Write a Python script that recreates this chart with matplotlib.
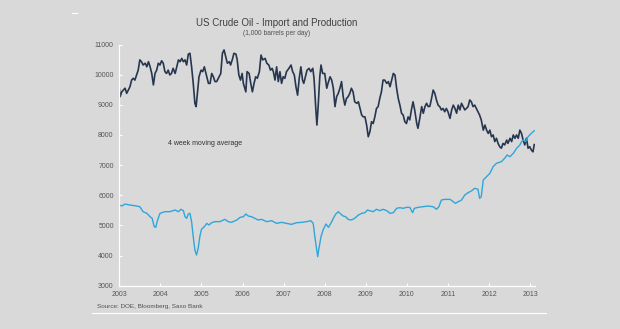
import matplotlib
matplotlib.use('Agg')
import matplotlib.pyplot as plt
from matplotlib.lines import Line2D

# weekly crude figures, 1,000 barrels per day (decimal years)
import_years = [
    2003.00, 2003.02, 2003.06, 2003.10, 2003.14, 2003.18, 2003.22, 2003.26, 2003.30, 2003.34,
    2003.38, 2003.42, 2003.46, 2003.50, 2003.54, 2003.58, 2003.63, 2003.67, 2003.71, 2003.75,
    2003.79, 2003.83, 2003.87, 2003.91, 2003.95, 2003.99, 2004.03, 2004.07, 2004.11, 2004.15,
    2004.19, 2004.23, 2004.27, 2004.31, 2004.36, 2004.40, 2004.44, 2004.48, 2004.52, 2004.56,
    2004.60, 2004.64, 2004.68, 2004.72, 2004.76, 2004.80, 2004.84, 2004.87, 2004.90, 2004.94,
    2004.99, 2005.03, 2005.07, 2005.11, 2005.17, 2005.21, 2005.25, 2005.29, 2005.33, 2005.37,
    2005.41, 2005.47, 2005.51, 2005.55, 2005.60, 2005.63, 2005.68, 2005.71, 2005.76, 2005.79,
    2005.84, 2005.87, 2005.91, 2005.95, 2005.99, 2006.02, 2006.08, 2006.11, 2006.16, 2006.20,
    2006.24, 2006.28, 2006.32, 2006.36, 2006.41, 2006.45, 2006.49, 2006.55, 2006.59, 2006.64,
    2006.68, 2006.72, 2006.75, 2006.79, 2006.83, 2006.87, 2006.91, 2006.95, 2006.99, 2007.03,
    2007.07, 2007.13, 2007.18, 2007.22, 2007.26, 2007.30, 2007.34, 2007.38, 2007.42, 2007.46,
    2007.49, 2007.54, 2007.57, 2007.62, 2007.66, 2007.71, 2007.74, 2007.78, 2007.81, 2007.84,
    2007.88, 2007.91, 2007.95, 2008.00, 2008.05, 2008.08, 2008.13, 2008.17, 2008.21, 2008.25,
    2008.29, 2008.33, 2008.37, 2008.41, 2008.45, 2008.49, 2008.53, 2008.57, 2008.61, 2008.65,
    2008.69, 2008.73, 2008.78, 2008.82, 2008.86, 2008.90, 2008.94, 2008.98, 2009.02, 2009.06,
    2009.10, 2009.14, 2009.18, 2009.22, 2009.26, 2009.30, 2009.34, 2009.38, 2009.42, 2009.46,
    2009.51, 2009.55, 2009.59, 2009.63, 2009.67, 2009.71, 2009.75, 2009.79, 2009.83, 2009.87,
    2009.91, 2009.95, 2009.99, 2010.03, 2010.07, 2010.11, 2010.15, 2010.19, 2010.24, 2010.27,
    2010.32, 2010.36, 2010.40, 2010.44, 2010.48, 2010.52, 2010.56, 2010.60, 2010.64, 2010.68,
    2010.72, 2010.76, 2010.80, 2010.84, 2010.88, 2010.92, 2010.96, 2011.00, 2011.05, 2011.09,
    2011.13, 2011.17, 2011.21, 2011.25, 2011.29, 2011.33, 2011.37, 2011.41, 2011.45, 2011.49,
    2011.53, 2011.57, 2011.61, 2011.65, 2011.69, 2011.73, 2011.77, 2011.81, 2011.86, 2011.90,
    2011.94, 2011.98, 2012.02, 2012.06, 2012.10, 2012.14, 2012.18, 2012.22, 2012.26, 2012.30,
    2012.34, 2012.38, 2012.43, 2012.46, 2012.51, 2012.55, 2012.59, 2012.63, 2012.67, 2012.71,
    2012.75, 2012.79, 2012.83, 2012.87, 2012.91, 2012.95, 2012.99, 2013.03, 2013.07, 2013.10,
]
imports = [
    9550, 9270, 9430, 9490, 9550, 9380, 9490, 9600, 9820, 9880,
    9820, 9990, 10150, 10490, 10430, 10320, 10380, 10260, 10430, 10260,
    10040, 9660, 10040, 10150, 10380, 10320, 10460, 10380, 10100, 10040,
    10150, 9990, 10040, 10210, 10040, 10260, 10490, 10430, 10540, 10430,
    10490, 10320, 10680, 10710, 10260, 9710, 9050, 8940, 9380, 9930,
    10150, 10100, 10260, 10040, 9710, 9710, 10040, 9930, 9770, 9770,
    9880, 10040, 10710, 10820, 10540, 10380, 10430, 10320, 10540, 10710,
    10680, 10490, 9990, 9820, 10040, 9710, 9430, 10100, 10040, 9710,
    9430, 9710, 9930, 9880, 10100, 10650, 10490, 10540, 10380, 10320,
    10150, 10210, 10100, 9820, 10260, 9770, 10100, 9710, 9930, 9880,
    10100, 10210, 10320, 10100, 9990, 9600, 9320, 9880, 10260, 9820,
    9710, 9990, 10150, 10210, 10100, 10210, 9880, 8940, 8330, 8940,
    9930, 10320, 10040, 10040, 9550, 9710, 9930, 9820, 9550, 8940,
    9270, 9380, 9550, 9770, 9270, 8990, 9210, 9270, 9380, 9550,
    9430, 9100, 9050, 9100, 8880, 8660, 8600, 8600, 8330, 7940,
    8110, 8440, 8380, 8600, 8880, 8940, 9210, 9430, 9820, 9820,
    9710, 9770, 9600, 9820, 10040, 9990, 9550, 9210, 8990, 8720,
    8660, 8440, 8380, 8600, 8500, 8830, 9100, 8830, 8380, 8220,
    8600, 8940, 8720, 8940, 9050, 8940, 8950, 9210, 9490, 9380,
    9160, 8990, 8940, 8830, 8880, 8770, 8880, 8770, 8550, 8830,
    8990, 8880, 8720, 8990, 8830, 9050, 8940, 8830, 8880, 8940,
    9160, 9100, 8940, 8990, 8880, 8770, 8660, 8500, 8160, 8330,
    8160, 8050, 8160, 7940, 8000, 7780, 7890, 7720, 7610, 7560,
    7720, 7670, 7830, 7720, 7890, 7780, 8000, 7890, 8000, 7890,
    8160, 8050, 7830, 7670, 7890, 7560, 7610, 7500, 7440, 7680,
]

prod_years = [
    2003.00, 2003.06, 2003.14, 2003.26, 2003.38, 2003.50, 2003.58, 2003.67, 2003.75, 2003.80,
    2003.85, 2003.89, 2003.92, 2003.99, 2004.11, 2004.23, 2004.36, 2004.44, 2004.50, 2004.56,
    2004.60, 2004.64, 2004.68, 2004.72, 2004.76, 2004.80, 2004.84, 2004.88, 2004.92, 2004.96,
    2005.00, 2005.07, 2005.13, 2005.18, 2005.25, 2005.33, 2005.45, 2005.57, 2005.65, 2005.73,
    2005.86, 2005.94, 2006.02, 2006.08, 2006.14, 2006.22, 2006.30, 2006.38, 2006.46, 2006.59,
    2006.71, 2006.83, 2006.95, 2007.07, 2007.19, 2007.32, 2007.44, 2007.56, 2007.66, 2007.72,
    2007.76, 2007.80, 2007.83, 2007.86, 2007.91, 2007.96, 2008.03, 2008.09, 2008.15, 2008.21,
    2008.27, 2008.33, 2008.39, 2008.45, 2008.51, 2008.57, 2008.65, 2008.73, 2008.82, 2008.90,
    2008.98, 2009.04, 2009.10, 2009.18, 2009.26, 2009.34, 2009.42, 2009.51, 2009.59, 2009.67,
    2009.75, 2009.83, 2009.91, 2009.99, 2010.07, 2010.14, 2010.18, 2010.27, 2010.40, 2010.52,
    2010.64, 2010.72, 2010.78, 2010.84, 2010.92, 2011.05, 2011.13, 2011.18, 2011.25, 2011.33,
    2011.41, 2011.49, 2011.57, 2011.65, 2011.73, 2011.77, 2011.81, 2011.86, 2011.94, 2012.02,
    2012.10, 2012.18, 2012.30, 2012.38, 2012.44, 2012.51, 2012.59, 2012.67, 2012.75, 2012.79,
    2012.83, 2012.89, 2012.95, 2013.03, 2013.10,
]
production = [
    5676, 5643, 5709, 5676, 5653, 5620, 5455, 5400, 5288, 5235,
    4957, 4937, 5125, 5400, 5455, 5455, 5510, 5455, 5534, 5488,
    5288, 5235, 5378, 5400, 5125, 4625, 4184, 4018, 4240, 4625,
    4870, 4957, 5068, 5013, 5090, 5125, 5125, 5201, 5125, 5101,
    5179, 5267, 5288, 5378, 5311, 5288, 5235, 5179, 5201, 5125,
    5156, 5068, 5101, 5068, 5035, 5090, 5101, 5125, 5156, 5068,
    4625, 4240, 3962, 4240, 4625, 4848, 5046, 4937, 5068, 5235,
    5378, 5455, 5378, 5311, 5288, 5201, 5179, 5235, 5345, 5400,
    5422, 5510, 5488, 5455, 5534, 5488, 5534, 5488, 5400, 5422,
    5566, 5588, 5566, 5599, 5599, 5422, 5566, 5599, 5620, 5643,
    5620, 5534, 5620, 5842, 5864, 5864, 5786, 5732, 5786, 5842,
    6008, 6085, 6141, 6230, 6200, 5898, 5952, 6506, 6616, 6727,
    6948, 7059, 7114, 7225, 7335, 7280, 7390, 7556, 7666, 7776,
    7832, 7776, 7942, 8053, 8140,
]

year_ticks = list(range(2003, 2014))
value_ticks = list(range(3000, 11001, 1000))

bg = '#d9d9d9'
plt.rcParams['font.family'] = ['Liberation Sans', 'DejaVu Sans']

fig = plt.figure(figsize=(6.2, 3.29), dpi=100, facecolor=bg)
ax = fig.add_axes([0.1924, 0.1316, 0.6706, 0.7331], facecolor=bg)

ax.plot(import_years, imports, color='#27364f', lw=1.2, solid_joinstyle='round')
ax.plot(prod_years, production, color='#2fa6da', lw=1.0, solid_joinstyle='round')

ax.set_xlim(2003, 2013.12)
ax.set_ylim(3000, 11000)
ax.set_xticks(year_ticks)
ax.set_xticklabels([str(y) for y in year_ticks])
ax.set_yticks(value_ticks)
ax.set_yticklabels([str(v) for v in value_ticks])

for side in ['top', 'right']:
    ax.spines[side].set_visible(False)
for side in ['left', 'bottom']:
    ax.spines[side].set_color('white')
    ax.spines[side].set_linewidth(0.9)
ax.tick_params(axis='both', direction='in', length=2.5, width=0.8, color='white',
               labelsize=5, labelcolor='#555555', pad=4)

ax.text(2004.18, 7730, '4 week moving average', fontsize=5, color='#333333',
        ha='left', va='center')

fig.text(0.446, 0.93, 'US Crude Oil - Import and Production', fontsize=7,
         color='#404040', ha='center', va='center')
fig.text(0.446, 0.899, '(1,000 barrels per day)', fontsize=4.8,
         color='#505050', ha='center', va='center')
fig.text(0.156, 0.067, 'Source: DOE, Bloomberg, Saxo Bank', fontsize=4.6,
         color='#505050', ha='left', va='center')

# thin white rule under the source line and a short mark top left
fig.add_artist(Line2D([92 / 620, 546 / 620], [1 - 313 / 329, 1 - 313 / 329],
                      color='white', lw=0.8))
fig.add_artist(Line2D([72 / 620, 77 / 620], [1 - 13 / 329, 1 - 13 / 329],
                      color='white', lw=0.8))

fig.savefig('out.png', dpi=100, facecolor=bg)
